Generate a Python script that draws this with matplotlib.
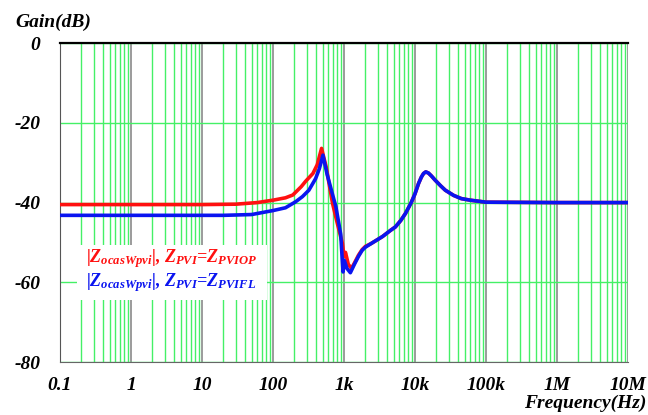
import matplotlib
matplotlib.use('Agg')
import matplotlib.pyplot as plt
from matplotlib.ticker import LogLocator, NullFormatter
from matplotlib.patches import Rectangle
import numpy as np

plt.rcParams['font.family'] = 'Liberation Serif'
plt.rcParams['font.weight'] = 'bold'
plt.rcParams['font.style'] = 'italic'
plt.rcParams['mathtext.fontset'] = 'custom'
plt.rcParams['mathtext.it'] = 'Liberation Serif:bold:italic'
plt.rcParams['mathtext.rm'] = 'Liberation Serif:bold:italic'
plt.rcParams['mathtext.bf'] = 'Liberation Serif:bold:italic'

# red curve: Z_PVI = Z_PVIOP
freq_op = [0.1, 10, 30, 60, 100, 150, 190, 250, 290, 365, 420, 483, 560, 690, 800, 950,
           1000, 1050, 1150, 1274, 1400, 1600, 1800, 2000, 2400, 2780, 3500, 4500, 5300, 6300,
           7360, 8850, 10000, 11230, 12300, 13200, 14190, 15500, 17000, 19300, 23000, 26750,
           35000, 44900, 60000, 77600, 1e5, 1e6, 1e7]
gain_op = [-40.5, -40.5, -40.4, -40.0, -39.4, -38.8, -38.1, -36.0, -34.6, -32.7, -30.5, -26.4,
           -31.0, -40.2, -45.0, -50.3, -53.5, -52.5, -55.5, -56.5, -55.2, -53.2, -51.8, -51.0,
           -50.3, -49.6, -48.5, -47.0, -46.1, -44.5, -42.7, -40.0, -37.8, -35.2, -33.6, -32.7,
           -32.3, -32.6, -33.3, -34.4, -35.8, -36.9, -38.2, -39.0, -39.4, -39.65, -39.9, -40.0,
           -40.0]

# blue curve: Z_PVI = Z_PVIFL
freq_fl = [0.1, 20, 50, 100, 150, 208, 260, 320, 398, 450, 505, 580, 770, 900, 950, 970,
           1010, 1100, 1230, 1400, 1600, 1800, 2000, 2400, 2780, 3500, 4500, 5300, 6300, 7360,
           8850, 10000, 11230, 12300, 13200, 14190, 15500, 17000, 19300, 23000, 26750, 35000,
           44900, 60000, 77600, 1e5, 1e6, 1e7]
gain_fl = [-43.2, -43.2, -43.0, -42.0, -41.3, -39.8, -38.5, -36.9, -34.0, -31.5, -28.1, -33.0,
           -41.1, -48.0, -55.0, -57.4, -54.5, -56.5, -57.6, -55.5, -53.5, -52.0, -51.2, -50.3,
           -49.6, -48.5, -47.0, -46.1, -44.5, -42.7, -40.0, -37.8, -35.2, -33.6, -32.7, -32.3,
           -32.6, -33.3, -34.4, -35.8, -36.9, -38.2, -39.0, -39.4, -39.65, -39.9, -40.0, -40.0]

xticks = [0.1, 1, 10, 100, 1e3, 1e4, 1e5, 1e6, 1e7]
xticklabels = ['0.1', '1', '10', '100', '1k', '10k', '100k', '1M', '10M']
yticks = [-80, -60, -40, -20, 0]
yticklabels = ['-80', '-60', '-40', '-20', '0']

fig = plt.figure(figsize=(6.48, 4.15), dpi=100)
ax = fig.add_axes([0.0926, 0.1277, 0.8765, 0.7683])

ax.set_xscale('log')
ax.set_xlim(0.1, 1e7)
ax.set_ylim(-80, 0)

ax.xaxis.set_minor_locator(LogLocator(base=10, subs=np.arange(2, 10)))
ax.xaxis.set_minor_formatter(NullFormatter())
ax.grid(which='minor', axis='x', color='#44f066', lw=1.0)
ax.grid(which='major', axis='x', color='#8a8a8a', lw=1.2)
ax.grid(which='major', axis='y', color='#44f066', lw=1.0)
ax.set_axisbelow(True)

ax.plot(freq_op, gain_op, color='#ff1010', lw=2.6, zorder=3)
ax.plot(freq_fl, gain_fl, color='#0a14f0', lw=2.6, zorder=4)

tick_font = dict(family='Liberation Serif', weight='bold', style='italic', size=14)
ax.set_xticks(xticks)
ax.set_xticklabels(xticklabels, fontdict=tick_font)
ax.set_yticks(yticks)
ax.set_yticklabels(yticklabels, fontdict=tick_font)
ax.tick_params(which='both', length=0)
ax.tick_params(axis='x', pad=11)
ax.tick_params(axis='y', pad=14)

ax.spines['right'].set_visible(False)
ax.spines['top'].set_color('black')
ax.spines['top'].set_linewidth(1.6)
ax.spines['left'].set_color('#555555')
ax.spines['bottom'].set_color('#666666')

# legend box
ax.add_patch(Rectangle((0.03, 0.194), 0.334, 0.173, transform=ax.transAxes,
                       facecolor='white', edgecolor='none', zorder=2))
ax.text(0.046, 0.326, r'$|Z_{ocasWpvi}|$, $Z_{PVI}$=$Z_{PVIOP}$', transform=ax.transAxes,
        color='#ff1010', fontsize=13, va='center', ha='left', zorder=5)
ax.text(0.046, 0.248, r'$|Z_{ocasWpvi}|$, $Z_{PVI}$=$Z_{PVIFL}$', transform=ax.transAxes,
        color='#0a14f0', fontsize=13, va='center', ha='left', zorder=5)

fig.text(0.023, 0.947, 'Gain(dB)', fontsize=14, va='center', ha='left')
fig.text(0.997, 0.029, 'Frequency(Hz)', fontsize=14, va='center', ha='right')

fig.savefig('out.png', dpi=100)
